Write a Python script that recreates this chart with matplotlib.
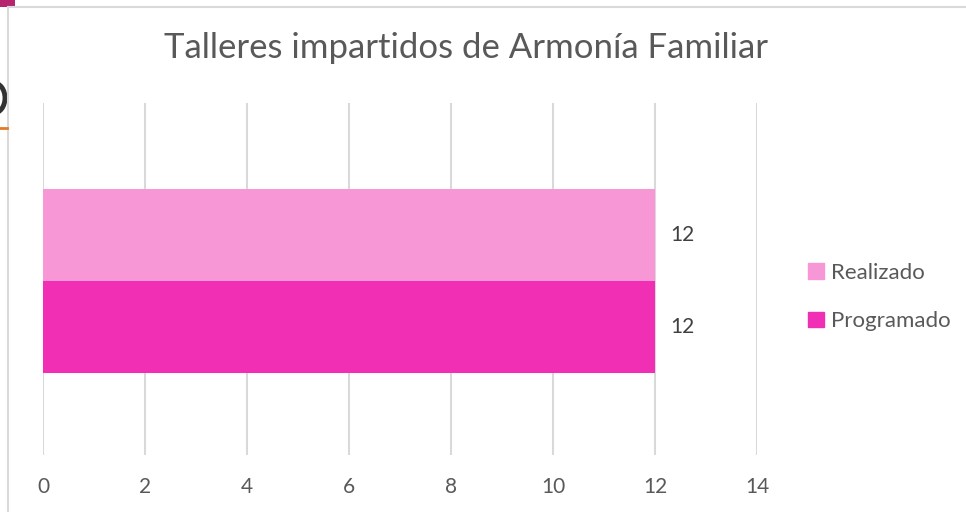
import matplotlib.pyplot as plt
from matplotlib.patches import Rectangle, Ellipse
from matplotlib.lines import Line2D

title = 'Talleres impartidos de Armonía Familiar'
series = ['Realizado', 'Programado']
values = [12, 12]
colors = ['#F797D6', '#F02FB4']
xticks = [0, 2, 4, 6, 8, 10, 12, 14]

plt.rcParams['font.family'] = ['Lato', 'DejaVu Sans']

fig = plt.figure(figsize=(9.66, 5.12), dpi=100)
W, H = 966, 512

# chart frame and bits of the slide behind it
fig.add_artist(Line2D([8 / W, 8 / W], [0, 1 - 7 / H], color='#d9d9d9', lw=1.5))
fig.add_artist(Line2D([8 / W, 1], [1 - 7 / H, 1 - 7 / H], color='#d9d9d9', lw=1.5))
fig.add_artist(Rectangle((0, 1 - 7 / H), 15 / W, 7 / H, color='#b5246f', lw=0))
fig.add_artist(Line2D([0, 7 / W], [1 - 128 / H, 1 - 128 / H], color='#e07b2a', lw=2))
fig.add_artist(Ellipse((-6 / W, 1 - 98 / H), 22 / W, 30 / H, fill=False,
                       edgecolor='#333333', lw=3.5))

ax = fig.add_axes([43 / W, 1 - 455 / H, (757 - 43) / W, (455 - 103) / H])

offs = [0.125, -0.136]
for name, v, c, o in zip(series, values, colors, offs):
    ax.barh(o, v, height=0.261, color=c, label=name, zorder=2)
    ax.text(v + 0.3, o, str(v), va='center', ha='left', fontsize=15, color='#404040')

ax.set_xlim(0, 14)
ax.set_ylim(-0.5, 0.5)
ax.set_xticks(xticks)
ax.set_yticks([])
ax.grid(axis='x', color='#d9d9d9', lw=1.5, zorder=0)
for s in ax.spines.values():
    s.set_visible(False)
ax.tick_params(axis='x', length=0, pad=16, labelsize=15, labelcolor='#595959')

fig.text(466 / W, 1 - 48 / H, title, ha='center', va='center', fontsize=25, color='#595959')

handles = [Rectangle((0, 0), 1, 1, color=c) for c in colors]
fig.legend(handles, series, loc='center left', bbox_to_anchor=(788 / W, 1 - 297 / H),
           frameon=False, fontsize=16, labelcolor='#595959', handlelength=0.7,
           handleheight=0.7, handletextpad=0.35, labelspacing=1.3)

fig.savefig('out.png', dpi=100)
